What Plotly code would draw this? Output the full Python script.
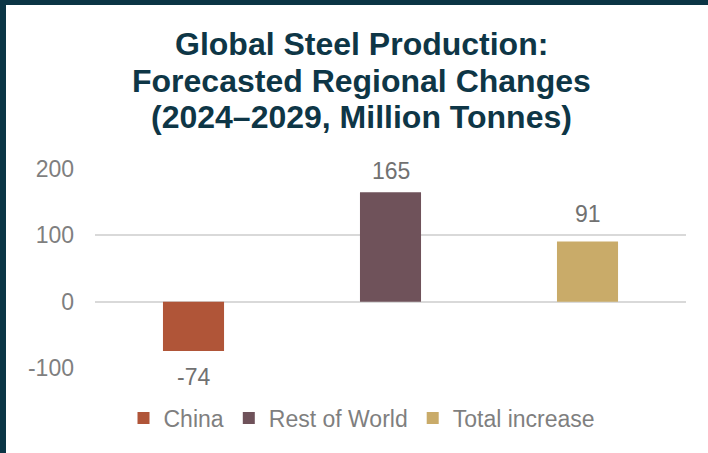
import plotly.graph_objects as go

# Forecasted change in steel output, 2024-2029 (million tonnes)
regions = ["China", "Rest of World", "Total increase"]
changes = [-74, 165, 91]
bar_colors = ["#B05538", "#6F525A", "#C9AB69"]

y_ticks = [-100, 0, 100, 200]
y_tick_text = ["-100", "0", "100", "200"]

title_lines = [
    "Global Steel Production:",
    "Forecasted Regional Changes",
    "(2024\u20132029, Million Tonnes)",
]

W, H = 708, 453
M_L, M_R, M_T, M_B = 95, 22, 168, 84
Y_RANGE = [-101.05, 201.5]
PLOT_H = H - M_T - M_B
PLOT_W = W - M_L - M_R
PX_PER_UNIT = PLOT_H / (Y_RANGE[1] - Y_RANGE[0])

GRID = "#D9D9D9"
AXIS_TEXT = "#7F7F7F"
LABEL_TEXT = "#717171"
TITLE_COLOR = "#0E3646"
FRAME = "#0B3545"
FONT = "Liberation Sans, Arial, sans-serif"


def px_to_paper_x(px):
    return (px - M_L) / PLOT_W


def px_to_paper_y(py):
    return (H - M_B - py) / PLOT_H


fig = go.Figure()
for name, val, col in zip(regions, changes, bar_colors):
    fig.add_trace(go.Bar(
        x=[name], y=[val], name=name,
        marker=dict(color=col, line=dict(width=0)),
        width=0.31,
        hoverinfo="skip",
    ))

# value labels outside the bar ends; positive labels stop short of the plot top
LABEL_PAD = 12
LABEL_CEILING = 174
for name, val in zip(regions, changes):
    if val >= 0:
        shift = min(LABEL_PAD, (LABEL_CEILING - val) * PX_PER_UNIT)
        fig.add_annotation(x=name, y=val, text=str(val), showarrow=False,
                           yanchor="bottom", yshift=shift,
                           font=dict(family=FONT, size=23, color=LABEL_TEXT))
    else:
        fig.add_annotation(x=name, y=val, text=str(val), showarrow=False,
                           yanchor="top", yshift=-LABEL_PAD + 1.5,
                           font=dict(family=FONT, size=23, color=LABEL_TEXT))

# three-line heading, one annotation per line for tight line spacing
TITLE_X = 361
TITLE_Y = [44, 80.5, 117]
for line, ty in zip(title_lines, TITLE_Y):
    fig.add_annotation(xref="paper", yref="paper",
                       x=px_to_paper_x(TITLE_X), y=px_to_paper_y(ty),
                       xanchor="center", yanchor="middle",
                       text="<b>" + line + "</b>", showarrow=False,
                       font=dict(family=FONT, size=32, color=TITLE_COLOR))

# dark frame strips along the left and top edges
fig.add_shape(type="rect", xref="paper", yref="paper",
              x0=px_to_paper_x(0), x1=px_to_paper_x(6),
              y0=px_to_paper_y(H), y1=px_to_paper_y(0),
              fillcolor=FRAME, line=dict(width=0), layer="above")
fig.add_shape(type="rect", xref="paper", yref="paper",
              x0=px_to_paper_x(0), x1=px_to_paper_x(W),
              y0=px_to_paper_y(5), y1=px_to_paper_y(0),
              fillcolor=FRAME, line=dict(width=0), layer="above")

fig.update_layout(
    width=W, height=H,
    margin=dict(l=M_L, r=M_R, t=M_T, b=M_B, pad=0),
    paper_bgcolor="white", plot_bgcolor="white",
    barmode="relative",
    showlegend=True,
    font=dict(family=FONT, color=AXIS_TEXT),
    legend=dict(
        orientation="h",
        xref="container", yref="container",
        x=362 / W, xanchor="center",
        y=1 - 418 / H, yanchor="middle",
        font=dict(family=FONT, size=23, color=AXIS_TEXT),
        itemwidth=30, traceorder="normal",
        bgcolor="rgba(0,0,0,0)",
    ),
    xaxis=dict(showticklabels=False, showgrid=False, zeroline=False,
               showline=False, ticks=""),
    yaxis=dict(range=Y_RANGE, tickvals=y_ticks, ticktext=y_tick_text,
               showgrid=True, gridcolor=GRID, gridwidth=2,
               zeroline=True, zerolinecolor=GRID, zerolinewidth=2,
               showline=False, ticks="", ticklabelstandoff=20,
               tickfont=dict(family=FONT, size=23, color=AXIS_TEXT)),
)

fig.write_html("out.html")
